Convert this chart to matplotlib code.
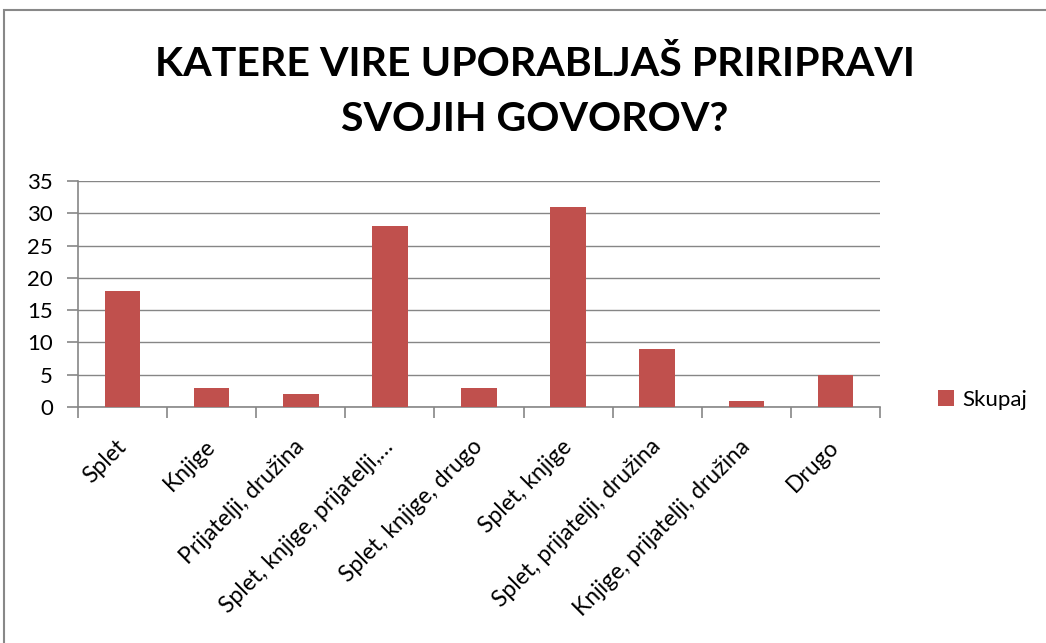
import matplotlib

matplotlib.use("Agg")
import matplotlib.pyplot as plt
from matplotlib.patches import Rectangle

categories = [
    "Splet",
    "Knjige",
    "Prijatelji, družina",
    "Splet, knjige, prijatelji,…",
    "Splet, knjige, drugo",
    "Splet, knjige",
    "Splet, prijatelji, družina",
    "Knjige, prijatelji, družina",
    "Drugo",
]
values = [18, 3, 2, 28, 3, 31, 9, 1, 5]
y_ticks = [0, 5, 10, 15, 20, 25, 30, 35]
series_name = "Skupaj"
title = "KATERE VIRE UPORABLJAŠ PRIRIPRAVI\nSVOJIH GOVOROV?"

bar_color = "#C0504D"
grid_color = "#868686"
W, H = 1046, 643

plt.rcParams["font.family"] = ["Lato", "DejaVu Sans"]

fig = plt.figure(figsize=(W / 100, H / 100), dpi=100)
fig.patch.set_facecolor("white")

# outer chart border (the chart is cropped at right and bottom)
fig.add_artist(Rectangle((4 / W, -0.1), 1.2, (643 - 10) / H + 0.1,
                         transform=fig.transFigure, fill=False,
                         edgecolor="#888888", linewidth=1.5))

ax = fig.add_axes([78 / W, 1 - 407 / H, (880 - 78) / W, (407 - 181) / H])
x = list(range(len(categories)))
ax.bar(x, values, width=0.4, color=bar_color, label=series_name, zorder=3)

ax.set_xlim(-0.5, len(categories) - 0.5)
ax.set_ylim(0, 35)
ax.set_yticks(y_ticks)
ax.set_yticklabels([str(v) for v in y_ticks], fontsize=16)
ax.yaxis.grid(True, color=grid_color, linewidth=1.0, zorder=0)

ax.set_xticks([i - 0.5 for i in range(len(categories) + 1)])
ax.set_xticklabels([])
ax.set_xticks(x, minor=True)
ax.set_xticklabels(categories, minor=True, rotation=45, ha="right",
                   va="center", rotation_mode="anchor", fontsize=16.5)
ax.tick_params(axis="x", which="minor", length=0, pad=26)
ax.tick_params(axis="x", which="major", length=8, width=1.2, color=grid_color)
ax.tick_params(axis="y", length=8, width=1.2, color=grid_color, pad=10)

for side in ["top", "right"]:
    ax.spines[side].set_visible(False)
for side in ["left", "bottom"]:
    ax.spines[side].set_color(grid_color)
    ax.spines[side].set_linewidth(1.2)

fig.text(535 / W, 1 - 92 / H, title, ha="center", va="center", fontsize=29.6,
         fontweight="bold", linespacing=1.6)

ax.legend(loc="center left", bbox_to_anchor=(938 / W, 1 - 400 / H),
          bbox_transform=fig.transFigure, frameon=False, fontsize=16,
          handlelength=0.7, handleheight=0.7, handletextpad=0.4,
          borderaxespad=0, borderpad=0)

fig.savefig("out.png", dpi=100)
